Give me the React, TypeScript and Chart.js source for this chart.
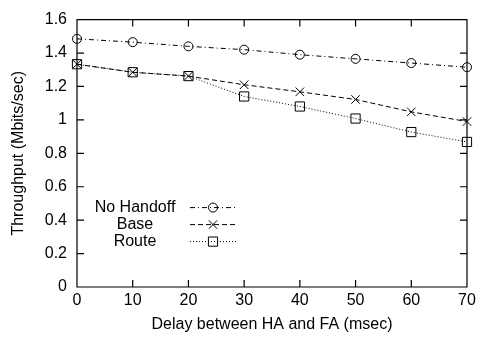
import React, { useEffect, useRef } from "react";
import { Chart, registerables } from "chart.js";

Chart.register(...registerables);

const delays = [0, 10, 20, 30, 40, 50, 60, 70];
const noHandoff = [1.485, 1.465, 1.44, 1.42, 1.39, 1.365, 1.34, 1.315];
const base = [1.333, 1.285, 1.262, 1.21, 1.168, 1.122, 1.048, 0.99];
const route = [1.333, 1.285, 1.262, 1.14, 1.08, 1.008, 0.927, 0.868];
const seriesNames = ["No Handoff", "Base", "Route"];
const xTitle = "Delay between HA and FA (msec)";
const yTitle = "Throughput (Mbits/sec)";

const FONT = "'Liberation Sans', Arial, Helvetica, sans-serif";

function drawMarker(ctx: CanvasRenderingContext2D, style: string, x: number, y: number) {
  ctx.save();
  ctx.setLineDash([]);
  ctx.strokeStyle = "#000";
  ctx.lineWidth = 1;
  ctx.beginPath();
  if (style === "circle") {
    ctx.arc(x, y, 4.5, 0, Math.PI * 2);
  } else if (style === "crossRot") {
    const r = 4.2;
    ctx.moveTo(x - r, y - r);
    ctx.lineTo(x + r, y + r);
    ctx.moveTo(x + r, y - r);
    ctx.lineTo(x - r, y + r);
  } else {
    const r = 4.6;
    ctx.rect(x - r, y - r, 2 * r, 2 * r);
  }
  ctx.stroke();
  ctx.restore();
}

const framePlugin = {
  id: "gnuFrame",
  afterDatasetsDraw(chart: any) {
    const { ctx, chartArea } = chart;
    const { left, right, top, bottom } = chartArea;
    const xs = chart.scales.x;
    const ys = chart.scales.y;
    const tl = 7;
    ctx.save();
    ctx.strokeStyle = "#000";
    ctx.lineWidth = 1.2;
    ctx.setLineDash([]);
    ctx.beginPath();
    ctx.rect(left, top, right - left, bottom - top);
    for (const t of xs.ticks) {
      const px = xs.getPixelForValue(t.value);
      ctx.moveTo(px, bottom);
      ctx.lineTo(px, bottom - tl);
      ctx.moveTo(px, top);
      ctx.lineTo(px, top + tl);
    }
    for (const t of ys.ticks) {
      const py = ys.getPixelForValue(t.value);
      ctx.moveTo(left, py);
      ctx.lineTo(left + tl, py);
      ctx.moveTo(right, py);
      ctx.lineTo(right - tl, py);
    }
    ctx.stroke();

    // legend
    ctx.font = `16px ${FONT}`;
    ctx.fillStyle = "#000";
    ctx.textAlign = "center";
    ctx.textBaseline = "middle";
    chart.data.datasets.forEach((ds: any, i: number) => {
      const y = top + 188 + i * 17;
      ctx.fillText(ds.label, left + 58, y);
      ctx.save();
      ctx.strokeStyle = "#000";
      ctx.lineWidth = 1;
      ctx.setLineDash(ds.borderDash);
      ctx.beginPath();
      ctx.moveTo(left + 113, y);
      ctx.lineTo(left + 160, y);
      ctx.stroke();
      ctx.restore();
      drawMarker(ctx, ds.pointStyle, left + 136, y);
    });
    ctx.restore();
  },
};

export default function App() {
  const ref = useRef<HTMLCanvasElement | null>(null);
  useEffect(() => {
    if (!ref.current) return;
    const mk = (label: string, vals: number[], dash: number[], ps: string, pr: number) => ({
      label,
      data: delays.map((d, i) => ({ x: d, y: vals[i] })),
      borderColor: "#000",
      borderWidth: 1,
      borderDash: dash,
      pointStyle: ps,
      pointRadius: pr,
      pointBorderWidth: 1,
      pointBorderColor: "#000",
      pointBackgroundColor: "rgba(0,0,0,0)",
      fill: false,
      tension: 0,
      clip: false,
    });
    const chart = new Chart(ref.current, {
      type: "line",
      data: {
        datasets: [
          mk(seriesNames[0], noHandoff, [5, 3, 1, 3], "circle", 4.5),
          mk(seriesNames[1], base, [5, 3], "crossRot", 6),
          mk(seriesNames[2], route, [1, 2], "rect", 6.5),
        ],
      },
      plugins: [framePlugin],
      options: {
        animation: false,
        responsive: true,
        maintainAspectRatio: false,
        layout: { padding: { left: 0, top: 13, right: 13, bottom: 0 } },
        plugins: { legend: { display: false }, tooltip: { enabled: false } },
        scales: {
          x: {
            type: "linear",
            min: 0,
            max: 70,
            afterFit: (s: any) => { s.height = 58; },
            ticks: { stepSize: 10, color: "#000", font: { family: FONT, size: 16 }, padding: 4, maxRotation: 0 },
            grid: { display: false, drawTicks: false },
            border: { display: false },
            title: { display: true, text: xTitle, color: "#000", font: { family: FONT, size: 16 }, padding: { bottom: 11 } },
          },
          y: {
            min: 0,
            max: 1.6,
            afterFit: (s: any) => { s.width = 77; },
            ticks: {
              stepSize: 0.2,
              color: "#000",
              font: { family: FONT, size: 16 },
              padding: 10,
              callback: (v: any) => String(Number(Number(v).toFixed(1))),
            },
            grid: { display: false, drawTicks: false },
            border: { display: false },
            title: { display: true, text: yTitle, color: "#000", font: { family: FONT, size: 16 }, padding: { top: 9 } },
          },
        },
      } as any,
    });
    return () => chart.destroy();
  }, []);
  return (
    <div style={{ position: "absolute", left: 0, top: 0, width: 480, height: 345, background: "#fff" }}>
      <canvas ref={ref} />
    </div>
  );
}
